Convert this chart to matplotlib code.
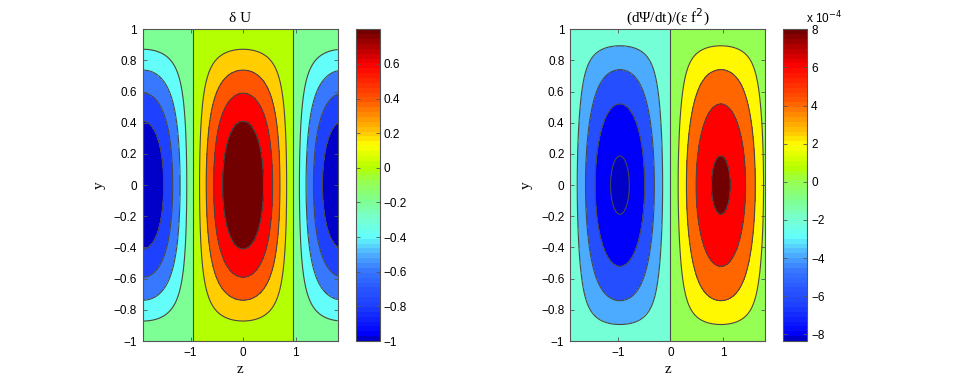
import numpy as np
import matplotlib.pyplot as plt
from matplotlib.colors import LinearSegmentedColormap, Normalize
from matplotlib.cm import ScalarMappable
from matplotlib.ticker import FuncFormatter

# domain shown in both panels
z_range = [-1.91, 1.80]
y_range = [-1.0, 1.0]
z_half_wave = 1.9      # zero crossing of the z structure
psi_half_wave = 1.92

# delta U panel
du_amp = 1.0
du_levels = [-0.8, -0.6, -0.4, -0.2, 0.0, 0.2, 0.4, 0.6, 0.8]
du_clim = [-1.0, 0.8]
du_cbar_ticks = [-1.0, -0.8, -0.6, -0.4, -0.2, 0.0, 0.2, 0.4, 0.6]

# (dPsi/dt)/(eps f^2) panel
psi_amp = 8.35e-4
psi_y_boost = 0.7
psi_levels = [-8e-4, -6e-4, -4e-4, -2e-4, 0.0, 2e-4, 4e-4, 6e-4, 8e-4]
psi_clim = [-8.35e-4, 8.0e-4]
psi_cbar_ticks = [-8e-4, -6e-4, -4e-4, -2e-4, 0.0, 2e-4, 4e-4, 6e-4, 8e-4]

y_ticks = [-1.0, -0.8, -0.6, -0.4, -0.2, 0.0, 0.2, 0.4, 0.6, 0.8, 1.0]
z_ticks = [-1, 0, 1]

# jet-like map as it shows up in the picture
jet_anchors = [
    (0.000, (0, 0, 200)),
    (0.016, (0, 0, 250)),
    (0.111, (30, 65, 255)),
    (0.160, (40, 85, 255)),
    (0.222, (55, 120, 255)),
    (0.278, (80, 180, 255)),
    (0.335, (100, 255, 250)),
    (0.388, (120, 255, 210)),
    (0.444, (125, 255, 150)),
    (0.511, (150, 255, 80)),
    (0.556, (180, 255, 0)),
    (0.630, (255, 255, 0)),
    (0.667, (255, 205, 0)),
    (0.778, (255, 85, 0)),
    (0.889, (255, 0, 0)),
    (1.000, (115, 0, 0)),
]
cmap = LinearSegmentedColormap.from_list(
    'jetish', [(f, tuple(c / 255 for c in rgb)) for f, rgb in jet_anchors], N=64)

line_col = '#474747'
frame_col = '#555555'
sans = ['Liberation Sans', 'DejaVu Sans']
serif = ['Liberation Serif', 'DejaVu Serif']
plt.rcParams['font.family'] = sans


def fmt(v, pos=None):
    s = f'{v:g}'
    return s.replace('-', '\u2212')


z = np.linspace(z_range[0], z_range[1], 500)
y = np.linspace(y_range[0], y_range[1], 400)
Z, Y = np.meshgrid(z, y)
du = du_amp * np.cos(np.pi * Z / z_half_wave) * np.cos(np.pi * Y / 2)
psi = psi_amp * np.sin(np.pi * Z / psi_half_wave) * np.cos(np.pi * Y / 2) * (1 + psi_y_boost * Y ** 4)

fig = plt.figure(figsize=(9.69, 3.85), dpi=100)

W, H = 969, 385
def px(x0, y0, x1, y1):
    return [x0 / W, (H - y1) / H, (x1 - x0) / W, (y1 - y0) / H]

panels = [
    (px(142.7, 29.3, 337.7, 341), px(355.7, 29.3, 379.7, 341), du, du_levels, du_clim,
     du_cbar_ticks, '\u03b4 U', 1.0),
    (px(570, 29.3, 765, 341), px(783, 29.3, 807, 341), psi, psi_levels, psi_clim,
     psi_cbar_ticks, '(d\u03a8/dt)/(\u03b5 f$^2$)', 1e4),
]

for ax_pos, cb_pos, field, levels, clim, cticks, title, scale in panels:
    ax = fig.add_axes(ax_pos)
    norm = Normalize(vmin=clim[0], vmax=clim[1])
    bounds = [field.min() - 1.0] + levels + [field.max() + 1.0]
    fills = [cmap(norm(clim[0]))] + [cmap(norm(l)) for l in levels]
    ax.contourf(Z, Y, field, levels=bounds, colors=fills)
    ax.contour(Z, Y, field, levels=levels, colors=line_col, linewidths=0.8,
               linestyles='solid')
    ax.set_xlim(z_range)
    ax.set_ylim(y_range)
    ax.set_xticks(z_ticks)
    ax.set_yticks(y_ticks)
    ax.xaxis.set_major_formatter(FuncFormatter(fmt))
    ax.yaxis.set_major_formatter(FuncFormatter(fmt))
    ax.tick_params(direction='in', top=True, right=True, length=3, width=0.6,
                   color=frame_col, labelsize=8.5, pad=4)
    for sp in ax.spines.values():
        sp.set_color(frame_col)
        sp.set_linewidth(0.8)
    ax.set_xlabel('z', family=serif, fontsize=11, labelpad=3)
    ax.set_ylabel('y', family=serif, fontsize=11, labelpad=6)
    ax.set_title(title, family=serif, fontsize=11, pad=5)

    cax = fig.add_axes(cb_pos)
    cb = fig.colorbar(ScalarMappable(norm=norm, cmap=cmap), cax=cax)
    cb.set_ticks(cticks)
    cb.ax.yaxis.set_major_formatter(FuncFormatter(lambda v, p, s=scale: fmt(round(v * s, 6))))
    cb.ax.tick_params(direction='in', left=True, right=True, length=3, width=0.6,
                      color=frame_col, labelsize=8.5, pad=3)
    cb.outline.set_edgecolor(frame_col)
    cb.outline.set_linewidth(0.8)

fig.text(806 / W, 1 - 23 / H, 'x 10$^{-4}$', fontsize=8.5, va='baseline', ha='left')

fig.savefig('out.png', dpi=100)
